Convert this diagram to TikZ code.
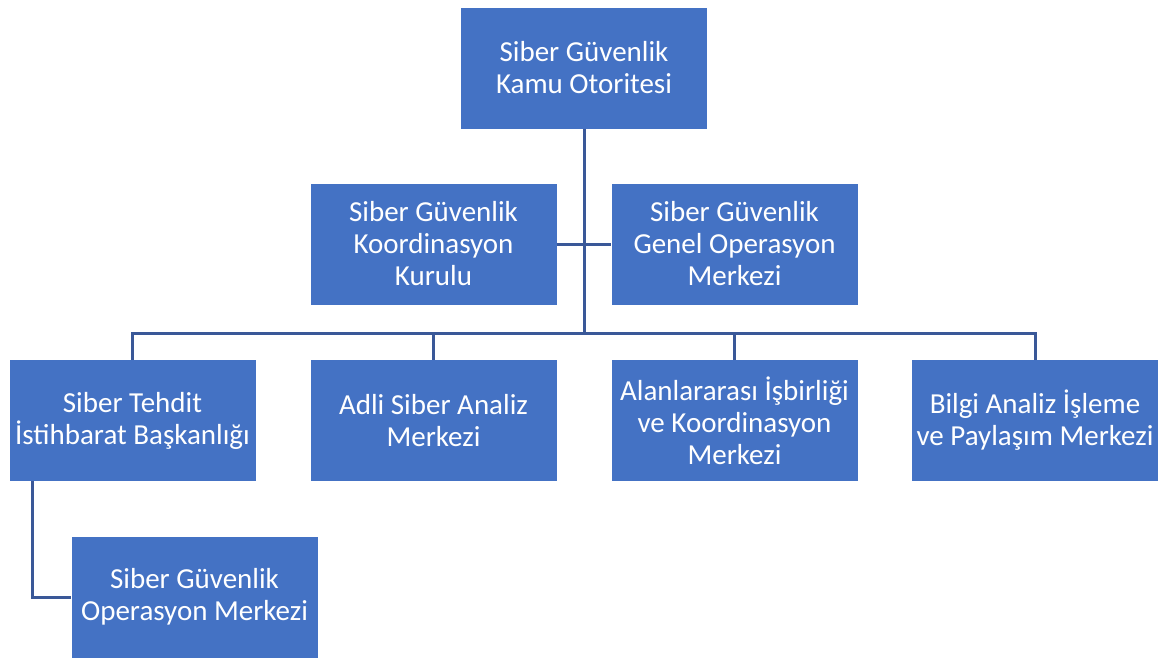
\documentclass[tikz,border=0pt]{standalone}
\usepackage{fontspec}
\setmainfont{Carlito}
\usetikzlibrary{calc}
\definecolor{boxblue}{HTML}{4472C4}
\definecolor{lineblue}{RGB}{58,88,152}
\begin{document}
\begin{tikzpicture}[x=1pt,y=1pt,
  orgbox/.style={rectangle, fill=boxblue, text=white, minimum width=246pt, minimum height=121pt, inner sep=0pt, align=center, font=\fontsize{29}{32}\selectfont},
  conn/.style={draw=lineblue, line width=3pt}]
\useasboundingbox (0,0) rectangle (1166,-657);
\node[orgbox] (top) at (584,-68) {Siber Güvenlik\\Kamu Otoritesi};
\node[orgbox] (kurul) at (433.5,-244) {Siber Güvenlik\\Koordinasyon\\Kurulu};
\node[orgbox] (genel) at (734.5,-244) {Siber Güvenlik\\Genel Operasyon\\Merkezi};
\node[orgbox] (b1) at (132.5,-420.5) {Siber Tehdit\\İstihbarat Başkanlığı};
\node[orgbox] (b2) at (433.5,-420.5) {Adli Siber Analiz\\Merkezi};
\node[orgbox] (b3) at (734.5,-420.5) {Alanlararası İşbirliği\\ve Koordinasyon\\Merkezi};
\node[orgbox] (b4) at (1035,-420.5) {Bilgi Analiz İşleme\\ve Paylaşım Merkezi};
\node[orgbox] (child) at (194.5,-597) {Siber Güvenlik\\Operasyon Merkezi};
\coordinate (bus) at (584,-333);
\draw[conn] (top.south) -- (bus);
\draw[conn] (kurul.east) -- (genel.west);
\draw[conn] (bus) -| (b1.north);
\draw[conn] (bus) -| (b2.north);
\draw[conn] (bus) -| (b3.north);
\draw[conn] (bus) -| (b4.north);
\draw[conn] ($(b1.south west)+(23,0)$) |- (child.west);
\end{tikzpicture}
\end{document}
